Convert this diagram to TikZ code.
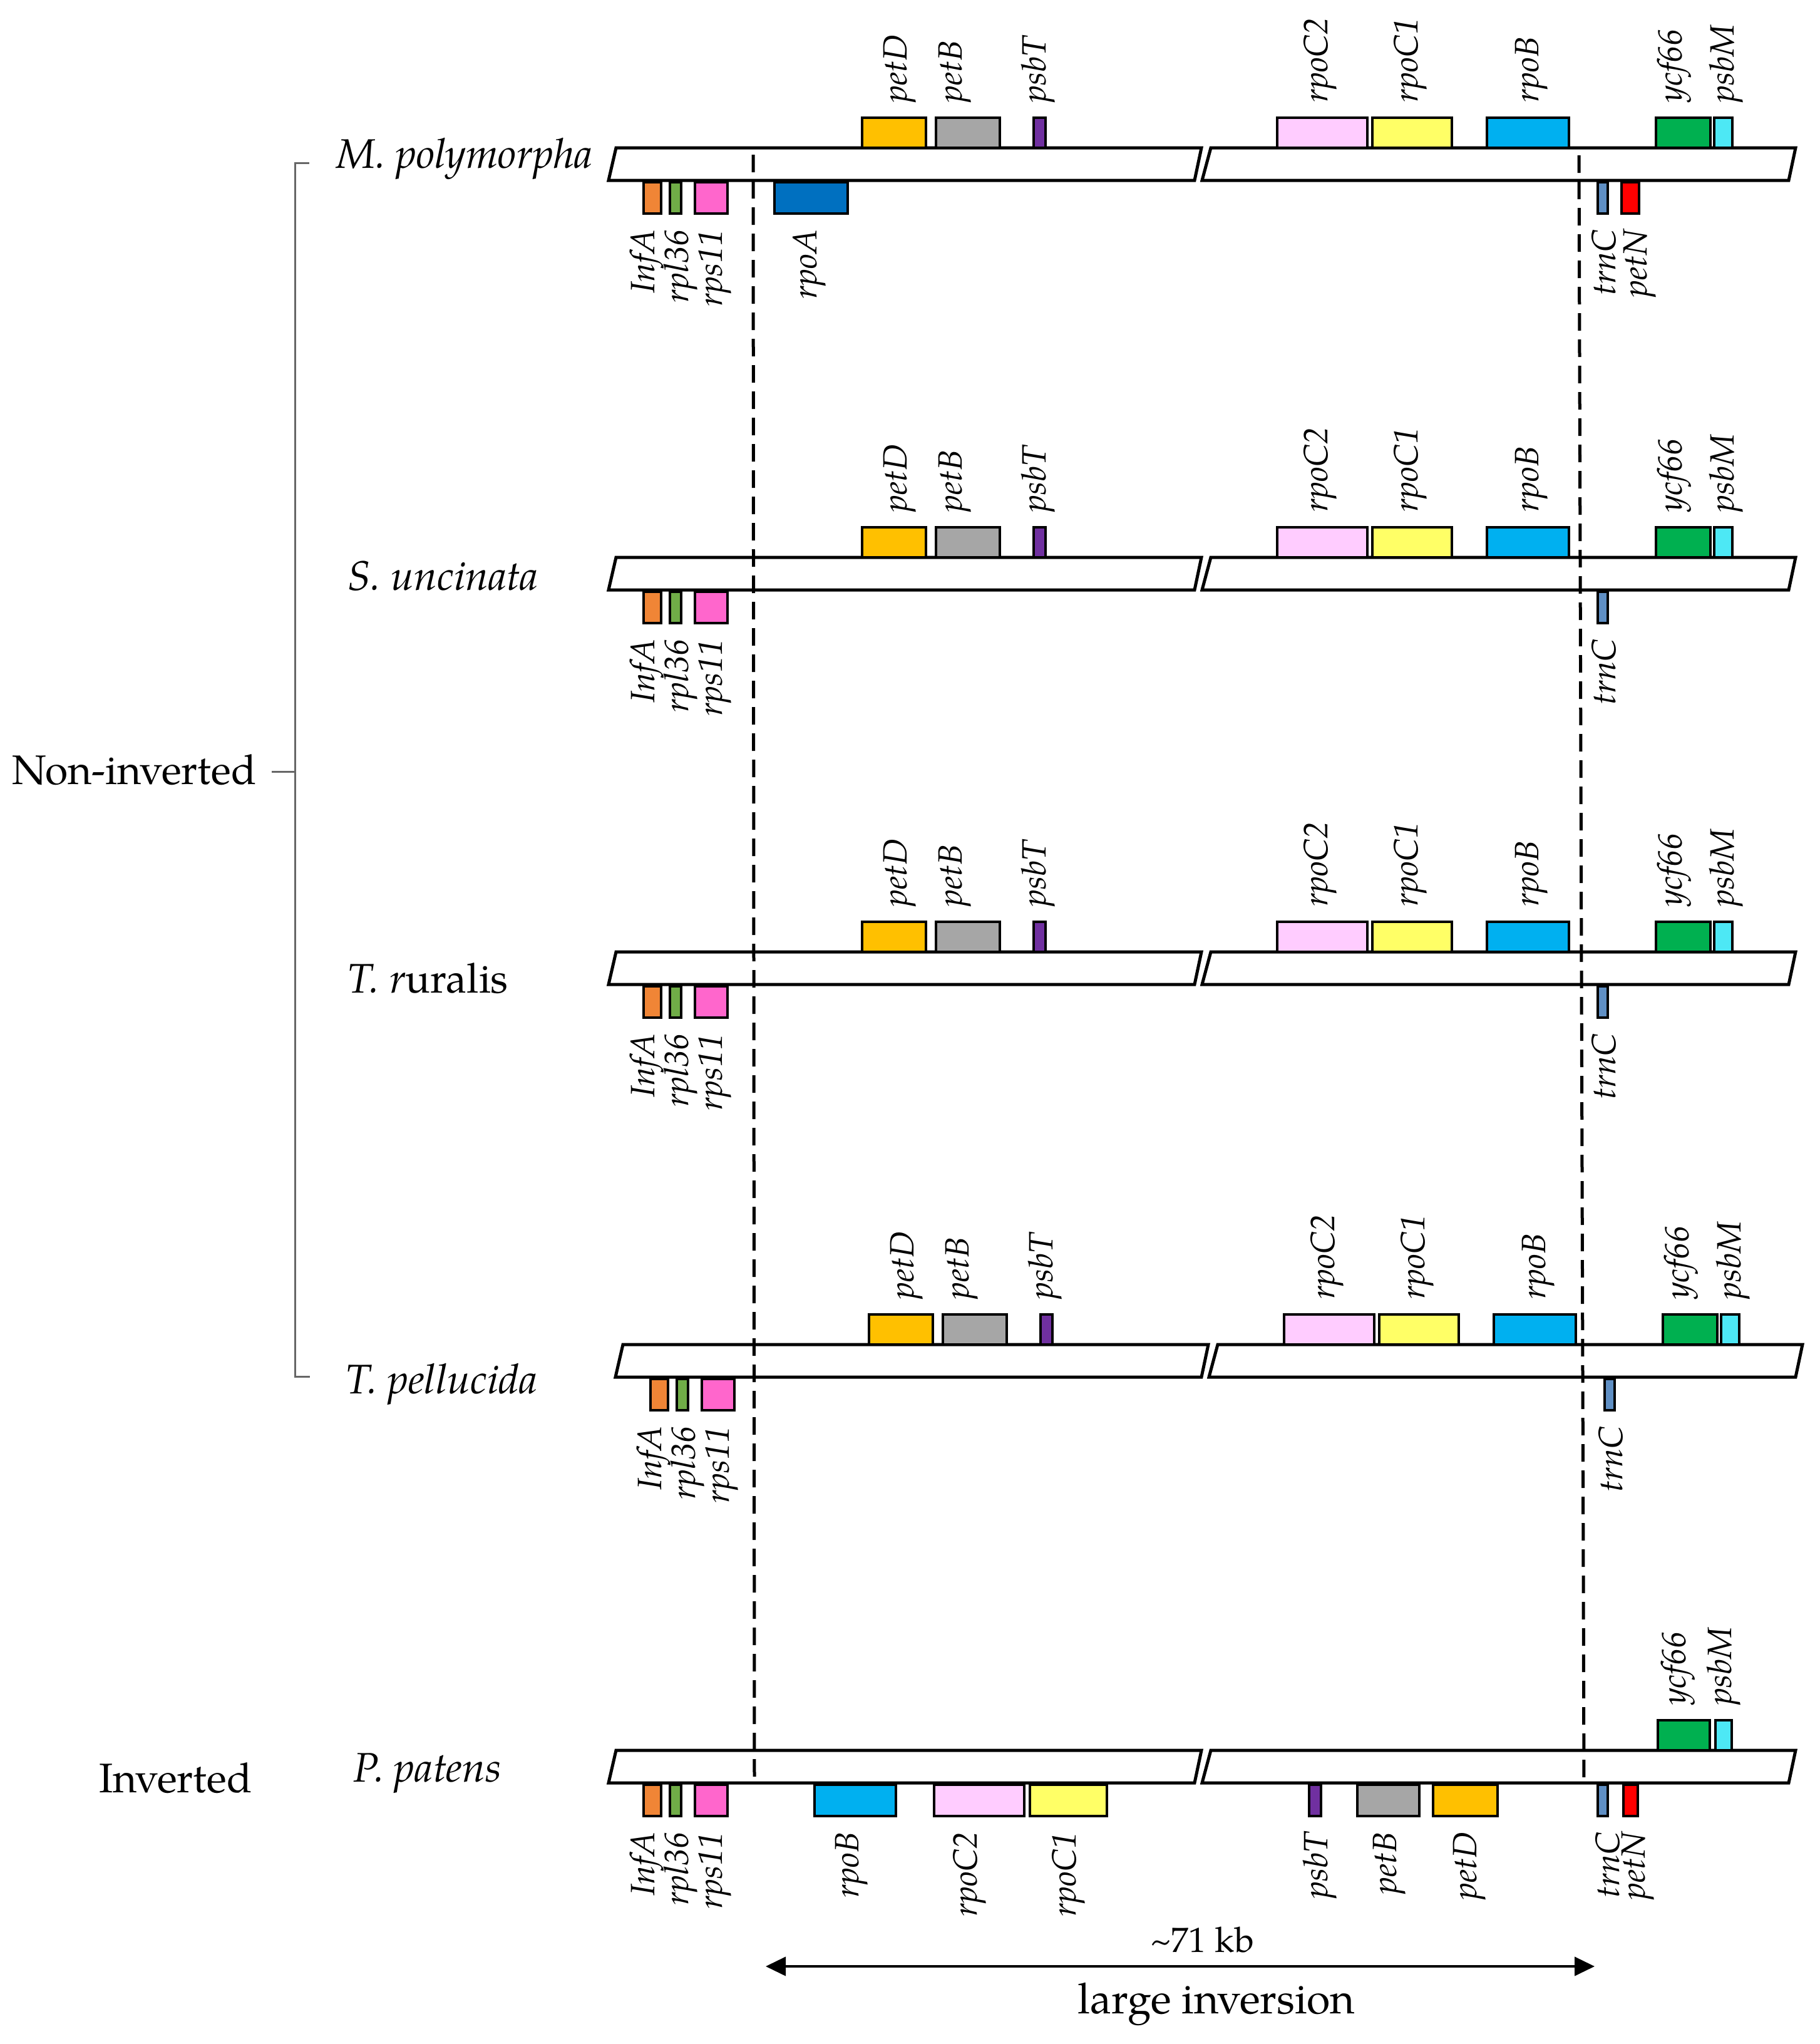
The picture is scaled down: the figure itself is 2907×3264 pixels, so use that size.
\documentclass[tikz,border=0pt]{standalone}
\usepackage{fontspec}
\setmainfont{texgyrepagella}[Extension=.otf,UprightFont=*-regular,ItalicFont=*-italic,BoldFont=*-bold,BoldItalicFont=*-bolditalic]
\usetikzlibrary{arrows.meta}
\definecolor{cInfA}{HTML}{F08536}
\definecolor{cRpl}{HTML}{70AD47}
\definecolor{cRps}{HTML}{FF66CC}
\definecolor{cRpoA}{HTML}{0070C0}
\definecolor{cPetD}{HTML}{FFC000}
\definecolor{cPetB}{HTML}{A6A6A6}
\definecolor{cPsbT}{HTML}{7030A0}
\definecolor{cRpoCb}{HTML}{FFCCFF}
\definecolor{cRpoCa}{HTML}{FFFF66}
\definecolor{cRpoB}{HTML}{00B0F0}
\definecolor{cYcf}{HTML}{00B050}
\definecolor{cPsbM}{HTML}{4DE8F5}
\definecolor{cTrnC}{HTML}{5F8FC4}
\definecolor{cPetN}{HTML}{FF0000}
\tikzset{
  barline/.style={draw=black, line width=5pt, fill=white, line join=miter},
  genebox/.style={draw=black, line width=4pt, inner sep=0pt, outer sep=0pt},
  glab/.style={font=\fontsize{54}{60}\selectfont\itshape, inner sep=0pt, rotate=90},
  species/.style={font=\fontsize{66}{72}\selectfont\itshape, inner sep=0pt, anchor=base west},
  grouplab/.style={font=\fontsize{66}{72}\selectfont, inner sep=0pt, anchor=base west},
  kblab/.style={font=\fontsize{56}{62}\selectfont, inner sep=0pt},
  invlab/.style={font=\fontsize{68}{74}\selectfont, inner sep=0pt},
  bracket/.style={draw=black!60, line width=3pt},
  divider/.style={draw=black, line width=5pt, dash pattern=on 28pt off 14pt},
}
\def\rdx{0}
% chromosome: #1 top y
\newcommand\chrom[1]{%
  \draw[barline] ({984+\rdx},#1) -- ({1919+\rdx},#1) -- ({1908+\rdx},{#1+52}) -- ({972+\rdx},{#1+52}) -- cycle;
  \draw[barline] ({1934+\rdx},#1) -- ({2868+\rdx},#1) -- ({2857+\rdx},{#1+52}) -- ({1920+\rdx},{#1+52}) -- cycle;}
% gene above bar: id, x1, x2, colour, bar top, label x, text
\newcommand\gU[7]{%
  \node[genebox, fill=#4, minimum width={(#3)-(#2)}, minimum height=48pt, anchor=south west] (#1) at ({#2+\rdx},#5) {};
  \node[glab, anchor=west] (#1-l) at ({#6+\rdx},{#5-72}) {#7};}
% gene below bar: id, x1, x2, colour, bar bottom, label x, text
\newcommand\gD[7]{%
  \node[genebox, fill=#4, minimum width={(#3)-(#2)}, minimum height=50pt, anchor=north west] (#1) at ({#2+\rdx},{#5+3}) {};
  \node[glab, anchor=east] (#1-l) at ({#6+\rdx},{#5+78}) {#7};}
% non-inverted row: prefix, bar top, bar bottom
\newcommand\stdrow[3]{%
  \gD{#1infA}{1028}{1056}{cInfA}{#3}{1033}{InfA}
  \gD{#1rpl}{1070}{1088}{cRpl}{#3}{1087}{rpl36}
  \gD{#1rps}{1110}{1162}{cRps}{#3}{1142}{rps11}
  \gU{#1petD}{1377}{1479}{cPetD}{#2}{1437}{petD}
  \gU{#1petB}{1495}{1597}{cPetB}{#2}{1525}{petB}
  \gU{#1psbT}{1651}{1670}{cPsbT}{#2}{1658}{psbT}
  \gU{#1rpoCb}{2040}{2184}{cRpoCb}{#2}{2109}{rpoC2}
  \gU{#1rpoCa}{2192}{2319}{cRpoCa}{#2}{2253}{rpoC1}
  \gU{#1rpoB}{2375}{2506}{cRpoB}{#2}{2446}{rpoB}
  \gU{#1ycf}{2645}{2732}{cYcf}{#2}{2674}{ycf66}
  \gU{#1psbM}{2738}{2767}{cPsbM}{#2}{2757}{psbM}
  \gD{#1trnC}{2552}{2568}{cTrnC}{#3}{2562}{trnC}}
\begin{document}
\begin{tikzpicture}[x=1pt,y=-1pt]
\useasboundingbox (0,0) rectangle (2907,3264);
% bracket
\coordinate (bt) at (494,260);
\coordinate (btc) at (471,260);
\coordinate (bbc) at (471,2198);
\coordinate (bb) at (495,2198);
\coordinate (bm) at (471,1232);
\coordinate (bml) at (434,1232);
\draw[bracket] (bt) -- (btc) -- (bbc) -- (bb);
\draw[bracket] (bm) -- (bml);
\node[grouplab] (noninv) at (19,1252) {Non-inverted};
\node[grouplab] (inv) at (158,2862) {Inverted};
% species names
\node[species] (sp1) at (537,268) {M. polymorpha};
\node[species] (sp2) at (555,942) {S. uncinata};
\node[species] (sp3) at (555,1585) {T. r\upshape uralis};
\node[species] (sp4) at (552,2225) {T. pellucida};
\node[species] (sp5) at (564,2845) {P. patens};
% bars
\def\rdx{0}
\chrom{236}
\chrom{890}
\chrom{1520}
\def\rdx{11}
\chrom{2147}
\def\rdx{0}
\chrom{2795}
% dashed dividers
\coordinate (dl1) at (1203,247);
\coordinate (dl2) at (1205,2848);
\coordinate (dr1) at (2522,248);
\coordinate (dr2) at (2530,2848);
\draw[divider] (dl1) -- (dl2);
\draw[divider] (dr1) -- (dr2);
% row 1
\def\rdx{0}
\stdrow{a}{236}{288}
\gD{arpoA}{1237}{1354}{cRpoA}{288}{1293}{rpoA}
\gD{apetN}{2590}{2618}{cPetN}{288}{2619}{petN}
% rows 2-4
\stdrow{b}{890}{942}
\stdrow{c}{1520}{1572}
\def\rdx{11}
\stdrow{d}{2147}{2199}
% row 5 (inverted)
\def\rdx{0}
\gD{einfA}{1028}{1056}{cInfA}{2847}{1033}{InfA}
\gD{erpl}{1070}{1088}{cRpl}{2847}{1087}{rpl36}
\gD{erps}{1110}{1162}{cRps}{2847}{1142}{rps11}
\gD{erpoB}{1301}{1431}{cRpoB}{2847}{1360}{rpoB}
\gD{erpoCb}{1492}{1636}{cRpoCb}{2847}{1549}{rpoC2}
\gD{erpoCa}{1645}{1768}{cRpoCa}{2847}{1707}{rpoC1}
\gD{epsbT}{2091}{2110}{cPsbT}{2847}{2108}{psbT}
\gD{epetB}{2168}{2267}{cPetB}{2847}{2219}{petB}
\gD{epetD}{2289}{2392}{cPetD}{2847}{2347}{petD}
\gD{etrnC}{2552}{2568}{cTrnC}{2847}{2568}{trnC}
\gD{epetN}{2593}{2616}{cPetN}{2847}{2616}{petN}
\gU{eycf}{2648}{2731}{cYcf}{2795}{2680}{ycf66}
\gU{epsbM}{2740}{2766}{cPsbM}{2795}{2753}{psbM}
% inversion arrow
\coordinate (al) at (1223,3140);
\coordinate (ar) at (2547,3140);
\draw[line width=4pt, {Triangle[length=32pt,width=30pt]}-{Triangle[length=32pt,width=30pt]}] (al) -- (ar);
\node[kblab] (kb) at (1920,3097) {\textasciitilde71 kb};
\node[invlab] (li) at (1943,3200) {large inversion};
\end{tikzpicture}
\end{document}
